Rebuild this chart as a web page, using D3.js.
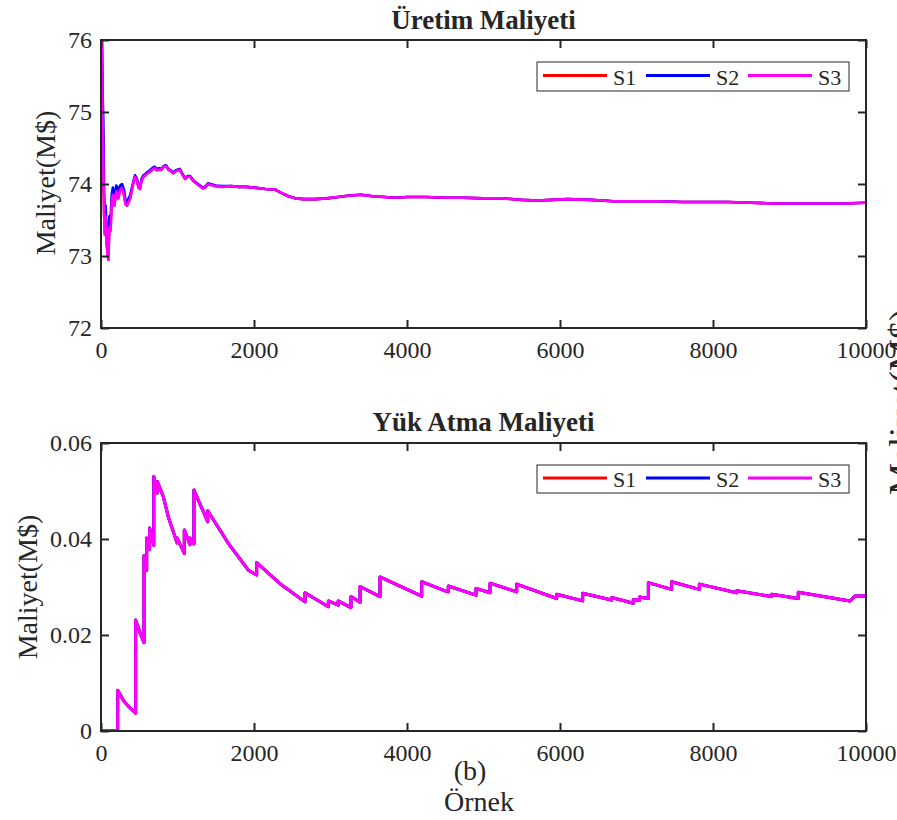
<!DOCTYPE html>
<html><head><meta charset="utf-8">
<script src="https://cdn.jsdelivr.net/npm/d3@7"></script>
<style>
body{margin:0;background:#fff}
svg{display:block}
text{font-family:"Liberation Serif","Times New Roman",serif;fill:#262626}
</style>
</head><body>
<svg id="c" width="897" height="820"></svg>
<script>
// ---------- DATA ----------
const seriesNames = ["S1", "S2", "S3"];
const seriesColors = ["#ff0000", "#0000ff", "#ff00ff"];
const xTicks = [0, 2000, 4000, 6000, 8000, 10000];
const topYTicks = [72, 73, 74, 75, 76];
const botYTicks = [0, 0.02, 0.04, 0.06];
const botYTickLabels = ["0", "0.02", "0.04", "0.06"];

// Üretim Maliyeti (production cost, M$)
const prodSamples = [0, 10, 20, 30, 40, 50, 60, 70, 80, 95, 110, 125, 140, 155, 175, 200, 225, 250, 275, 300, 320, 340, 360, 380, 400, 420, 445, 470, 490, 510, 530, 555, 580, 610, 640, 670, 700, 730, 760, 790, 820, 850, 880, 910, 945, 980, 1030, 1070, 1100, 1130, 1165, 1200, 1230, 1280, 1330, 1360, 1400, 1430, 1500, 1580, 1700, 1800, 1900, 2000, 2150, 2280, 2350, 2450, 2550, 2650, 2800, 2950, 3100, 3250, 3400, 3550, 3700, 3850, 4000, 4250, 4500, 4750, 5000, 5250, 5500, 5700, 5900, 6100, 6400, 6700, 7000, 7300, 7600, 7900, 8200, 8500, 8800, 9100, 9400, 9700, 10000];
const prodS1 = [78, 76.0, 75.0, 74.3, 73.6, 73.3, 73.55, 73.2, 73.1, 72.95, 73.4, 73.35, 73.75, 73.85, 73.7, 73.9, 73.8, 73.92, 73.94, 73.85, 73.72, 73.7, 73.75, 73.8, 73.9, 74.0, 74.1, 74.05, 73.95, 73.93, 74.05, 74.1, 74.12, 74.15, 74.17, 74.2, 74.22, 74.19, 74.2, 74.2, 74.24, 74.25, 74.2, 74.18, 74.15, 74.18, 74.2, 74.12, 74.07, 74.1, 74.1, 74.05, 74.02, 73.98, 73.94, 73.95, 74.0, 73.99, 73.97, 73.96, 73.97, 73.96, 73.96, 73.95, 73.93, 73.92, 73.88, 73.83, 73.8, 73.79, 73.79, 73.8, 73.82, 73.84, 73.85, 73.83, 73.82, 73.81, 73.82, 73.82, 73.81, 73.81, 73.8, 73.8, 73.78, 73.77, 73.78, 73.79, 73.78, 73.76, 73.76, 73.76, 73.75, 73.75, 73.75, 73.74, 73.73, 73.73, 73.73, 73.73, 73.74];
const prodS2 = [78, 76.3, 75.3, 74.9, 73.9, 73.55, 73.7, 73.45, 73.3, 73.15, 73.55, 73.5, 73.85, 73.95, 73.8, 73.98, 73.9, 73.98, 74.0, 73.92, 73.78, 73.75, 73.8, 73.84, 73.93, 74.02, 74.12, 74.07, 73.97, 73.95, 74.07, 74.12, 74.14, 74.17, 74.19, 74.22, 74.24, 74.21, 74.22, 74.21, 74.25, 74.26, 74.21, 74.19, 74.16, 74.19, 74.21, 74.13, 74.08, 74.11, 74.11, 74.06, 74.03, 73.99, 73.95, 73.96, 74.01, 74.0, 73.98, 73.97, 73.97, 73.96, 73.96, 73.95, 73.93, 73.92, 73.88, 73.83, 73.8, 73.79, 73.79, 73.8, 73.82, 73.84, 73.85, 73.83, 73.82, 73.81, 73.82, 73.82, 73.81, 73.81, 73.8, 73.8, 73.78, 73.77, 73.78, 73.79, 73.78, 73.76, 73.76, 73.76, 73.75, 73.75, 73.75, 73.74, 73.73, 73.73, 73.73, 73.73, 73.74];
const prodS3 = [78, 76.0, 75.0, 74.3, 73.6, 73.3, 73.55, 73.2, 73.1, 72.95, 73.4, 73.35, 73.75, 73.85, 73.7, 73.9, 73.8, 73.92, 73.94, 73.85, 73.72, 73.7, 73.75, 73.8, 73.9, 74.0, 74.1, 74.05, 73.95, 73.93, 74.05, 74.1, 74.12, 74.15, 74.17, 74.2, 74.22, 74.19, 74.2, 74.2, 74.24, 74.25, 74.2, 74.18, 74.15, 74.18, 74.2, 74.12, 74.07, 74.1, 74.1, 74.05, 74.02, 73.98, 73.94, 73.95, 74.0, 73.99, 73.97, 73.96, 73.97, 73.96, 73.96, 73.95, 73.93, 73.92, 73.88, 73.83, 73.8, 73.79, 73.79, 73.8, 73.82, 73.84, 73.85, 73.83, 73.82, 73.81, 73.82, 73.82, 73.81, 73.81, 73.8, 73.8, 73.78, 73.77, 73.78, 73.79, 73.78, 73.76, 73.76, 73.76, 73.75, 73.75, 73.75, 73.74, 73.73, 73.73, 73.73, 73.73, 73.74];

// Yük Atma Maliyeti (load shedding cost, M$) – the three series coincide
const shedSamples = [0, 218, 218, 300, 380, 453, 453, 510, 562, 562, 597, 597, 635, 635, 690, 690, 735, 735, 815, 880, 990, 995, 995, 1089, 1089, 1163, 1163, 1215, 1215, 1395, 1395, 1664, 1926, 2035, 2035, 2362, 2667, 2667, 2972, 2972, 3100, 3100, 3268, 3268, 3386, 3386, 3647, 3647, 3908, 4192, 4192, 4497, 4540, 4540, 4902, 4902, 5085, 5085, 5434, 5434, 5957, 5957, 6296, 6296, 6675, 6675, 6958, 6958, 7040, 7040, 7155, 7155, 7459, 7459, 7822, 7822, 8309, 8309, 8767, 8767, 9115, 9115, 9791, 9856, 10000];
const shedS1 = [0, 0, 0.0085, 0.0062, 0.0048, 0.0037, 0.0231, 0.0205, 0.0184, 0.0365, 0.0335, 0.0402, 0.0378, 0.0423, 0.0387, 0.053, 0.0496, 0.052, 0.0488, 0.0446, 0.0394, 0.0392, 0.0402, 0.037, 0.0419, 0.0388, 0.0402, 0.039, 0.0502, 0.0436, 0.0459, 0.0391, 0.0335, 0.0325, 0.0351, 0.0304, 0.0269, 0.0288, 0.0259, 0.0271, 0.0262, 0.0271, 0.0257, 0.028, 0.0268, 0.0301, 0.028, 0.0321, 0.0302, 0.0281, 0.0311, 0.0292, 0.029, 0.0302, 0.0283, 0.0297, 0.0288, 0.0308, 0.029, 0.0306, 0.0276, 0.0285, 0.0271, 0.0287, 0.0273, 0.0278, 0.0266, 0.0274, 0.0272, 0.0279, 0.0276, 0.0309, 0.0295, 0.0311, 0.0295, 0.0306, 0.0288, 0.0292, 0.028, 0.0285, 0.0276, 0.0289, 0.0271, 0.0281, 0.0281];
const shedS2 = shedS1;
const shedS3 = shedS1;

// ---------- DRAW ----------
const svg = d3.select("#c");
const axisColor = "#262626";
const serif = '"Liberation Serif","Times New Roman",serif';

function panel(cfg) {
  const {left, right, top, bottom, xDomain, yDomain, yTicks, yTickFmt, title, titleY, xs, series, lineW, legendY, legendH, ylabel, ylabelX, ylabelY, id} = cfg;
  const x = d3.scaleLinear().domain(xDomain).range([left, right]);
  const y = d3.scaleLinear().domain(yDomain).range([bottom, top]);

  svg.append("clipPath").attr("id", id).append("rect")
    .attr("x", left).attr("y", top).attr("width", right - left).attr("height", bottom - top);

  const g = svg.append("g").attr("clip-path", `url(#${id})`);
  const line = d3.line().x((d, i) => x(xs[i])).y(d => y(d));
  series.forEach((vals, k) => {
    g.append("path").datum(vals).attr("d", line)
      .attr("fill", "none").attr("stroke", seriesColors[k])
      .attr("stroke-width", lineW).attr("stroke-linejoin", "round");
  });

  // axes with inward ticks
  const ax = [
    svg.append("g").attr("transform", `translate(0,${bottom})`)
      .call(d3.axisBottom(x).tickValues(xTicks).tickSize(-8).tickPadding(13).tickFormat(d3.format("d"))),
    svg.append("g").attr("transform", `translate(0,${top})`)
      .call(d3.axisTop(x).tickValues(xTicks).tickSize(-8).tickFormat("")),
    svg.append("g").attr("transform", `translate(${left},0)`)
      .call(d3.axisLeft(y).tickValues(yTicks).tickSize(-8).tickPadding(9).tickFormat(yTickFmt)),
    svg.append("g").attr("transform", `translate(${right},0)`)
      .call(d3.axisRight(y).tickValues(yTicks).tickSize(-8).tickFormat(""))
  ];
  ax.forEach(a => {
    a.attr("font-family", serif).attr("font-size", 24);
    a.select(".domain").remove();
    a.selectAll(".tick line").attr("stroke", axisColor).attr("stroke-width", 2);
    a.selectAll(".tick text").attr("fill", axisColor)
      .style("font-family", serif).style("font-size", "24px");
  });
  svg.append("rect").attr("x", left).attr("y", top).attr("width", right - left).attr("height", bottom - top)
    .attr("fill", "none").attr("stroke", axisColor).attr("stroke-width", 2);

  // title
  svg.append("text").attr("x", (left + right) / 2).attr("y", titleY)
    .attr("text-anchor", "middle").style("font-size", "27px").style("font-weight", "bold").text(title);

  // y label
  svg.append("text").attr("transform", `translate(${ylabelX},${ylabelY}) rotate(-90)`)
    .attr("text-anchor", "middle").style("font-size", "28px").text(ylabel);

  // legend
  const lx = 537, lw = 312;
  const lg = svg.append("g");
  lg.append("rect").attr("x", lx).attr("y", legendY).attr("width", lw).attr("height", legendH)
    .attr("fill", "#fff").attr("stroke", axisColor).attr("stroke-width", 1);
  const itemX = [543, 646, 748];
  seriesNames.forEach((n, k) => {
    const cy = legendY + legendH / 2;
    lg.append("line").attr("x1", itemX[k]).attr("x2", itemX[k] + 64).attr("y1", cy - 1).attr("y2", cy - 1)
      .attr("stroke", seriesColors[k]).attr("stroke-width", 3);
    lg.append("text").attr("x", itemX[k] + 70).attr("y", cy + 8).style("font-size", "22px").text(n);
  });
}

panel({
  id: "clipTop", left: 101, right: 866, top: 40, bottom: 328,
  xDomain: [0, 10000], yDomain: [72, 76], yTicks: topYTicks, yTickFmt: d3.format("d"),
  title: "Üretim Maliyeti", titleY: 29, xs: prodSamples,
  series: [prodS1, prodS2, prodS3], lineW: 2.6,
  legendY: 62, legendH: 29,
  ylabel: "Maliyet(M$)", ylabelX: 55, ylabelY: 183
});

panel({
  id: "clipBot", left: 101, right: 866, top: 443, bottom: 731,
  xDomain: [0, 10000], yDomain: [0, 0.06], yTicks: botYTicks, yTickFmt: (d, i) => botYTickLabels[i],
  title: "Yük Atma Maliyeti", titleY: 431, xs: shedSamples,
  series: [shedS1, shedS2, shedS3], lineW: 3,
  legendY: 465, legendH: 28,
  ylabel: "Maliyet(M$)", ylabelX: 37, ylabelY: 587
});

// caption and x label
svg.append("text").attr("x", 470).attr("y", 780).attr("text-anchor", "middle").style("font-size", "28px").text("(b)");
svg.append("text").attr("x", 479).attr("y", 811).attr("text-anchor", "middle").style("font-size", "28px").text("Örnek");

// y label of the neighbouring panel, cut by the page edge (as in the reference)
svg.append("text").attr("transform", "translate(914,402) rotate(-90)")
  .attr("text-anchor", "middle").style("font-size", "36px").text("Maliyet(M$)");
</script>
</body></html>
